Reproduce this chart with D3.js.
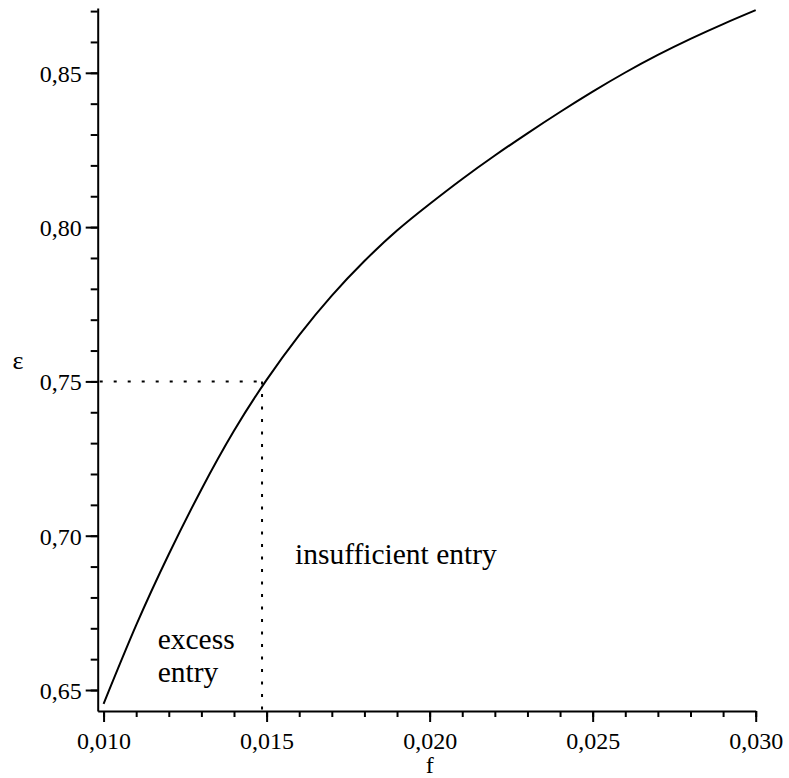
<!DOCTYPE html>
<html>
<head>
<meta charset="utf-8">
<script src="https://cdn.jsdelivr.net/npm/d3@7/dist/d3.min.js"></script>
<style>
  html, body { margin: 0; padding: 0; background: #fff; }
  svg { display: block; }
  text { font-family: "Liberation Serif", "DejaVu Serif", "Times New Roman", serif; fill: #000; }
</style>
</head>
<body>
<svg id="chart" width="789" height="778"></svg>
<script>
// ---- data ----
const fValues   = [0.010, 0.011, 0.012, 0.013, 0.014, 0.015, 0.016, 0.017, 0.018, 0.019, 0.020,
                   0.021, 0.022, 0.023, 0.024, 0.025, 0.026, 0.027, 0.028, 0.029, 0.030];
const epsValues = [0.6455, 0.6710, 0.6940, 0.7150, 0.7340, 0.7505, 0.7650, 0.7778, 0.7890, 0.7989, 0.8075,
                   0.8156, 0.8232, 0.8304, 0.8373, 0.8439, 0.8501, 0.8558, 0.8610, 0.8658, 0.8703];
const xMajorTicks = [0.010, 0.015, 0.020, 0.025, 0.030];
const xTickLabels = ["0,010", "0,015", "0,020", "0,025", "0,030"];
const xMinorTicks = d3.range(10, 31).map(d => d / 1000);
const yMajorTicks = [0.65, 0.70, 0.75, 0.80, 0.85];
const yTickLabels = ["0,65", "0,70", "0,75", "0,80", "0,85"];
const yMinorTicks = d3.range(65, 88).map(d => d / 100);
const fStar = 0.01486;
const epsStar = 0.75;
const xDomain = [0.00982, 0.030];
const yDomain = [0.6432, 0.8710];
const regionLabels = [
  { lines: ["excess", "entry"], f: 0.01166, eps: 0.6633 },
  { lines: ["insufficient entry"], f: 0.01587, eps: 0.6908 }
];
const xTitle = "f";
const yTitle = "ε";

const FONT = "'Liberation Serif', 'DejaVu Serif', 'Times New Roman', serif";

// ---- scales ----
const svg = d3.select("#chart");
const x = d3.scaleLinear().domain(xDomain).range([97.7, 755.7]);
const y = d3.scaleLinear().domain(yDomain).range([711, 8]);

// ---- axes ----
const axisStyle = g => {
  g.attr("font-family", FONT);
  g.selectAll("path.domain").attr("stroke", "#000").attr("stroke-width", 2);
  g.selectAll(".tick line").attr("stroke", "#000").attr("stroke-width", 2);
};

// minor ticks
svg.append("g").attr("transform", `translate(0,${y.range()[0]})`)
  .call(d3.axisBottom(x).tickValues(xMinorTicks).tickSize(6).tickFormat("").tickSizeOuter(0))
  .call(axisStyle).call(g => g.select(".domain").remove());
svg.append("g").attr("transform", `translate(${x.range()[0]},0)`)
  .call(d3.axisLeft(y).tickValues(yMinorTicks).tickSize(7).tickFormat("").tickSizeOuter(0))
  .call(axisStyle).call(g => g.select(".domain").remove());

// major ticks + axis lines
const xAxis = svg.append("g").attr("transform", `translate(0,${y.range()[0]})`)
  .call(d3.axisBottom(x).tickValues(xMajorTicks).tickSize(11).tickSizeOuter(0)
        .tickFormat((d, i) => xTickLabels[i]))
  .call(axisStyle);
xAxis.selectAll(".tick text").attr("font-size", 24).attr("dy", "0.71em").attr("y", 21)
  .attr("font-family", FONT);

const yAxis = svg.append("g").attr("transform", `translate(${x.range()[0]},0)`)
  .call(d3.axisLeft(y).tickValues(yMajorTicks).tickSize(12).tickSizeOuter(0)
        .tickFormat((d, i) => yTickLabels[i]))
  .call(axisStyle);
yAxis.selectAll(".tick text").attr("font-size", 24).attr("x", -16).attr("dy", "0.35em")
  .attr("font-family", FONT);

// ---- dotted guides ----
svg.append("line")
  .attr("x1", x(xDomain[0]) + 2).attr("x2", x(fStar))
  .attr("y1", y(epsStar)).attr("y2", y(epsStar))
  .attr("stroke", "#000").attr("stroke-width", 2).attr("stroke-dasharray", "3,11");
svg.append("line")
  .attr("x1", x(fStar)).attr("x2", x(fStar))
  .attr("y1", y(epsStar)).attr("y2", y(yDomain[0]))
  .attr("stroke", "#000").attr("stroke-width", 2).attr("stroke-dasharray", "3,9.5");

// ---- curve ----
const pts = fValues.map((f, i) => [f, epsValues[i]]);
svg.append("path")
  .datum(pts)
  .attr("fill", "none")
  .attr("stroke", "#000")
  .attr("stroke-width", 2)
  .attr("d", d3.line().x(d => x(d[0])).y(d => y(d[1])).curve(d3.curveNatural));

// ---- region labels ----
regionLabels.forEach(r => {
  const t = svg.append("text")
    .attr("x", x(r.f)).attr("y", y(r.eps))
    .attr("font-family", FONT)
    .attr("font-size", 29.5);
  r.lines.forEach((ln, i) => {
    t.append("tspan").attr("x", x(r.f)).attr("dy", i === 0 ? 0 : 33).text(ln);
  });
});

// ---- axis titles ----
svg.append("text").attr("x", x(0.020)).attr("y", 773)
  .attr("text-anchor", "middle").attr("font-family", FONT).attr("font-size", 24).text(xTitle);
svg.append("text").attr("x", 18).attr("y", 369)
  .attr("text-anchor", "middle").attr("font-family", FONT).attr("font-size", 26).text(yTitle);
</script>
</body>
</html>
